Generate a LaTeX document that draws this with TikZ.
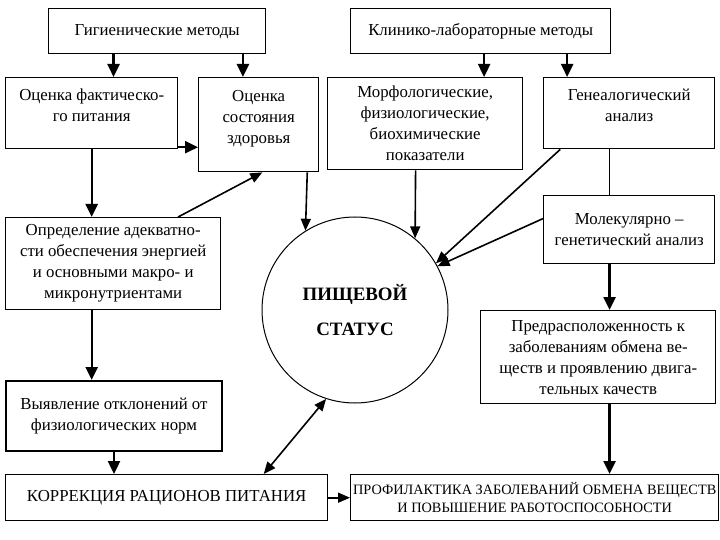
\documentclass[tikz,border=0pt]{standalone}
\usepackage{fontspec}
\setmainfont{Liberation Serif}
\usetikzlibrary{calc}
\usetikzlibrary{arrows.meta}

\begin{document}
\begin{tikzpicture}[x=1pt,y=-1pt,
  box/.style={draw, line width=1.4pt, anchor=north west, align=center, inner sep=2pt, font=\fontsize{16.8}{21}\selectfont},
  arr/.style={-{Triangle[length=13pt,width=12pt]}, line width=2.4pt},
  slant/.style={-{Triangle[length=12pt,width=10pt]}, line width=1.6pt},
  status/.style={draw, circle, line width=1pt, minimum size=186pt, align=center, font=\bfseries\fontsize{18.9}{35}\selectfont}]
\useasboundingbox (0,0) rectangle (720,540);

\node[box, minimum width=217pt, minimum height=45pt] (hyg) at (48,8) {Гигиенические методы};
\node[box, minimum width=260pt, minimum height=45pt] (clin) at (350,8) {Клинико-лабораторные методы};
\node[box, minimum width=172pt, minimum height=71pt, text depth=15.5pt] (fact) at (5,77) {Оценка фактическо-\\го питания};
\node[box, minimum width=120pt, minimum height=94pt, text depth=16.5pt] (health) at (198,77) {Оценка\\состояния\\здоровья};
\node[box, minimum width=195pt, minimum height=92pt] (morph) at (327,77) {Морфологические,\\физиологические,\\биохимические\\показатели};
\node[box, minimum width=171pt, minimum height=71pt, text depth=15.5pt] (geneal) at (543,77) {Генеалогический\\анализ};
\node[box, minimum width=215pt, minimum height=92pt] (def) at (5,217) {Определение адекватно-\\сти обеспечения энергией\\и основными макро- и\\микронутриентами};
\node[box, minimum width=171pt, minimum height=68pt] (mol) at (543,195) {Молекулярно –\\генетический анализ};
\node[status] (stat) at (355,310) {ПИЩЕВОЙ\\СТАТУС};
\node[box, minimum width=235pt, minimum height=93pt] (pred) at (480,310) {Предрасположенность к\\заболеваниям обмена ве-\\ществ и проявлению двига-\\тельных качеств};
\node[box, line width=2pt, minimum width=216pt, minimum height=70pt] (vyyav) at (5,380) {Выявление отклонений от\\физиологических норм};
\node[box, minimum width=322pt, minimum height=46pt] (korr) at (5,474) {КОРРЕКЦИЯ РАЦИОНОВ ПИТАНИЯ};
\node[box, minimum width=368pt, minimum height=46pt, font=\fontsize{14.3}{18}\selectfont] (prof) at (350,474) {ПРОФИЛАКТИКА ЗАБОЛЕВАНИЙ ОБМЕНА ВЕЩЕСТВ\\И ПОВЫШЕНИЕ РАБОТОСПОСОБНОСТИ};

% top row
\coordinate (a1) at ($(hyg.south west)!0.3!(hyg.south east)$);
\coordinate (a2) at ($(health.north west)!0.37!(health.north east)$);
\coordinate (a3) at ($(morph.north west)!0.8!(morph.north east)$);
\coordinate (a4) at ($(geneal.north west)!0.14!(geneal.north east)$);
  \draw[arr] (a1) -- (a1 |- fact.north);
  \draw[arr] (a2 |- hyg.south) -- (a2);
  \draw[arr] (a3 |- clin.south) -- (a3);
  \draw[arr] (a4 |- clin.south) -- (a4);

% left column
\coordinate (a5) at ($(fact.north east)!0.97!(fact.south east)$);
  \draw[arr] (a5) -- (a5 -| health.west);
  \draw[arr] (fact.south) -- (fact.south |- def.north);
  \draw[arr] (fact.south |- def.south) -- (fact.south |- vyyav.north);
  \draw[arr] (vyyav.south) -- (vyyav.south |- korr.north);
\coordinate (a6) at ($(def.north west)!0.8!(def.north east)$);
\coordinate (a7) at ($(health.south west)!0.53!(health.south east)$);
  \draw[slant] (a6) -- (a7);

% into the status
\coordinate (a8) at ($(health.south west)!0.9!(health.south east)$);
\coordinate (a9) at ($(morph.south west)!0.451!(morph.south east)$);
\coordinate (a10) at ($(geneal.south west)!0.1!(geneal.south east)$);
\coordinate (a11) at ($(mol.north west)!0.34!(mol.south west)$);
  \draw[slant] (a8) -- (stat.122);
  \draw[slant] (a9) -- (stat.50);
  \draw[slant] (a10) -- (stat.30);
  \draw[slant] (a11) -- (stat.28);

% right column
\coordinate (a12) at ($(geneal.south west)!0.386!(geneal.south east)$);
  \draw[line width=1.6pt] (a12) -- (a12 |- mol.north);
  \draw[arr] (a12 |- mol.south) -- (a12 |- pred.north);
  \draw[arr] (a12 |- pred.south) -- (a12 |- prof.north);

% bottom row
\coordinate (a13) at ($(korr.north west)!0.8!(korr.north east)$);
  \draw[{Triangle[length=12pt,width=10pt]}-{Triangle[length=12pt,width=10pt]}, line width=1.6pt] (a13) -- (stat.-108);
  \draw[slant] (korr.east) -- (prof.west);
\end{tikzpicture}
\end{document}
